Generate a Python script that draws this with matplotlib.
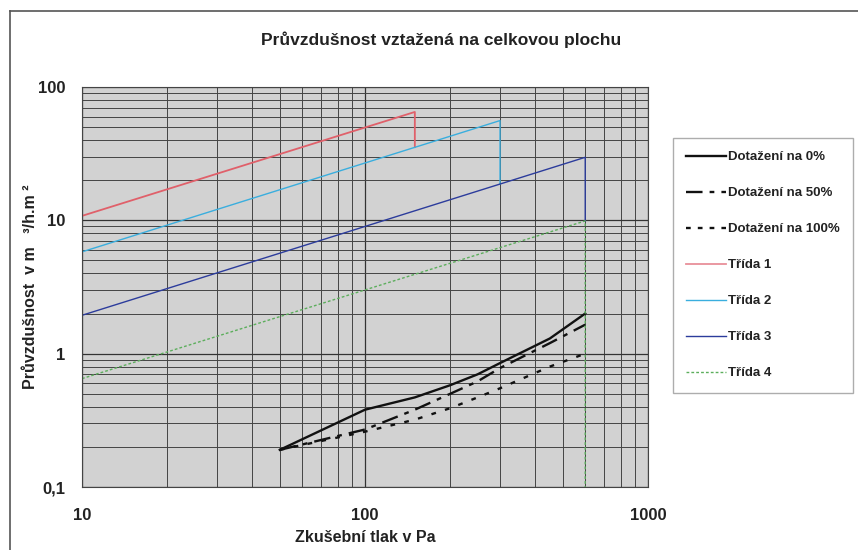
import numpy as np
import matplotlib
matplotlib.use('Agg')
import matplotlib.pyplot as plt
from matplotlib.lines import Line2D
from matplotlib.ticker import FixedLocator, FixedFormatter, LogLocator, NullFormatter

plt.rcParams['font.family'] = ['Liberation Sans', 'DejaVu Sans']

# measured curves (test pressure in Pa -> air permeability)
pressure = [50, 100, 150, 200, 250, 300, 450, 600]
tight_0 = [0.19, 0.38, 0.47, 0.58, 0.70, 0.85, 1.30, 2.00]
tight_50 = [0.19, 0.27, 0.38, 0.50, 0.62, 0.78, 1.20, 1.65]
tight_100 = [0.19, 0.26, 0.32, 0.39, 0.47, 0.55, 0.80, 1.00]

# class limit lines (start, end, drop)
class1_x = [10, 150, 150]
class1_y = [10.8, 65, 35.4]
class2_x = [10, 300, 300]
class2_y = [5.8, 56, 18.7]
class3_x = [10, 600, 600]
class3_y = [1.94, 29.7, 9.9]
class4_x = [10, 600, 600]
class4_y = [0.65, 9.9, 0.1]

y_ticks = [0.1, 1, 10, 100]
y_labels = ['0,1', '1', '10', '100']
x_ticks = [10, 100, 1000]
x_labels = ['10', '100', '1000']

fig = plt.figure(figsize=(8.58, 5.5), dpi=100)
ax = fig.add_axes([82 / 858, 1 - 487 / 550, 566 / 858, 400 / 550])
ax.set_facecolor('#d2d2d2')

ax.plot(pressure, tight_0, color='#111111', lw=1.7, ls='-')
ax.plot(pressure, tight_50, color='#111111', lw=1.7, ls=(0, (7, 3, 2, 3)))
ax.plot(pressure, tight_100, color='#111111', lw=1.7, ls=(0, (2, 4)))
ax.plot(class1_x, class1_y, color='#e0606a', lw=1.3)
ax.plot(class2_x, class2_y, color='#3aaede', lw=1.0)
ax.plot(class3_x, class3_y, color='#2c3c9c', lw=1.0)
ax.plot(class4_x, class4_y, color='#5cae5c', lw=1.0, ls=(0, (2, 1.5)))

ax.set_xscale('log')
ax.set_yscale('log')
ax.set_xlim(10, 1000)
ax.set_ylim(0.1, 100)

ax.xaxis.set_major_locator(FixedLocator(x_ticks))
ax.xaxis.set_major_formatter(FixedFormatter(x_labels))
ax.yaxis.set_major_locator(FixedLocator(y_ticks))
ax.yaxis.set_major_formatter(FixedFormatter(y_labels))
ax.xaxis.set_minor_locator(LogLocator(base=10, subs=np.arange(2, 10)))
ax.yaxis.set_minor_locator(LogLocator(base=10, subs=np.arange(2, 10)))
ax.xaxis.set_minor_formatter(NullFormatter())
ax.yaxis.set_minor_formatter(NullFormatter())

ax.grid(which='major', color='#333333', lw=0.9)
ax.grid(which='minor', color='#444444', lw=0.7)
ax.set_axisbelow(True)
ax.tick_params(which='both', length=0)
ax.tick_params(axis='x', pad=15, labelsize=12)
ax.tick_params(axis='y', pad=12, labelsize=12)
for lbl in ax.get_xticklabels() + ax.get_yticklabels():
    lbl.set_fontweight('bold')
    lbl.set_color('#222222')
for s in ax.spines.values():
    s.set_color('#444444')
    s.set_linewidth(0.8)

ax.set_xlabel('Zkušební tlak v Pa', fontsize=11.5, fontweight='bold', color='#222222')
ax.xaxis.set_label_coords(0.5, -(538 - 487) / 400)
ax.xaxis.label.set_va('center')
ax.set_ylabel('Průvzdušnost  v m   ³/h.m ²', fontsize=11.5, fontweight='bold', color='#222222')
ax.yaxis.set_label_coords(-(82 - 31) / 566, 0.5)
ax.yaxis.label.set_va('center')

fig.text(441 / 858, 1 - 40 / 550, 'Průvzdušnost vztažená na celkovou plochu', ha='center', va='center',
         fontsize=12.5, fontweight='bold', color='#222222')

handles = [
    Line2D([], [], color='#111111', lw=1.7, ls='-'),
    Line2D([], [], color='#111111', lw=1.7, ls=(0, (7, 3, 2, 3))),
    Line2D([], [], color='#111111', lw=1.7, ls=(0, (2, 3))),
    Line2D([], [], color='#e8909a', lw=1.3),
    Line2D([], [], color='#3aaede', lw=1.0),
    Line2D([], [], color='#2c3c9c', lw=1.0),
    Line2D([], [], color='#5cae5c', lw=1.0, ls=(0, (2, 1.5))),
]
labels = ['Dotažení na 0%', 'Dotažení na 50%', 'Dotažení na 100%',
          'Třída 1', 'Třída 2', 'Třída 3', 'Třída 4']
leg = fig.legend(handles, labels, loc='upper left', bbox_to_anchor=(673 / 858, 1 - 138 / 550),
                 frameon=True, fancybox=False, edgecolor='#999999',
                 handlelength=3.0, handletextpad=0.15, labelspacing=1.8, borderpad=1.0,
                 borderaxespad=0, prop={'weight': 'bold', 'size': 9.5})
for t in leg.get_texts():
    t.set_color('#222222')

# scanned page frame (top and left edges)
fig.add_artist(Line2D([10 / 858, 10 / 858], [0, 1 - 11 / 550], color='#555555', lw=1.2))
fig.add_artist(Line2D([10 / 858, 1], [1 - 11 / 550, 1 - 11 / 550], color='#555555', lw=1.2))

fig.savefig('out.png', dpi=100)
